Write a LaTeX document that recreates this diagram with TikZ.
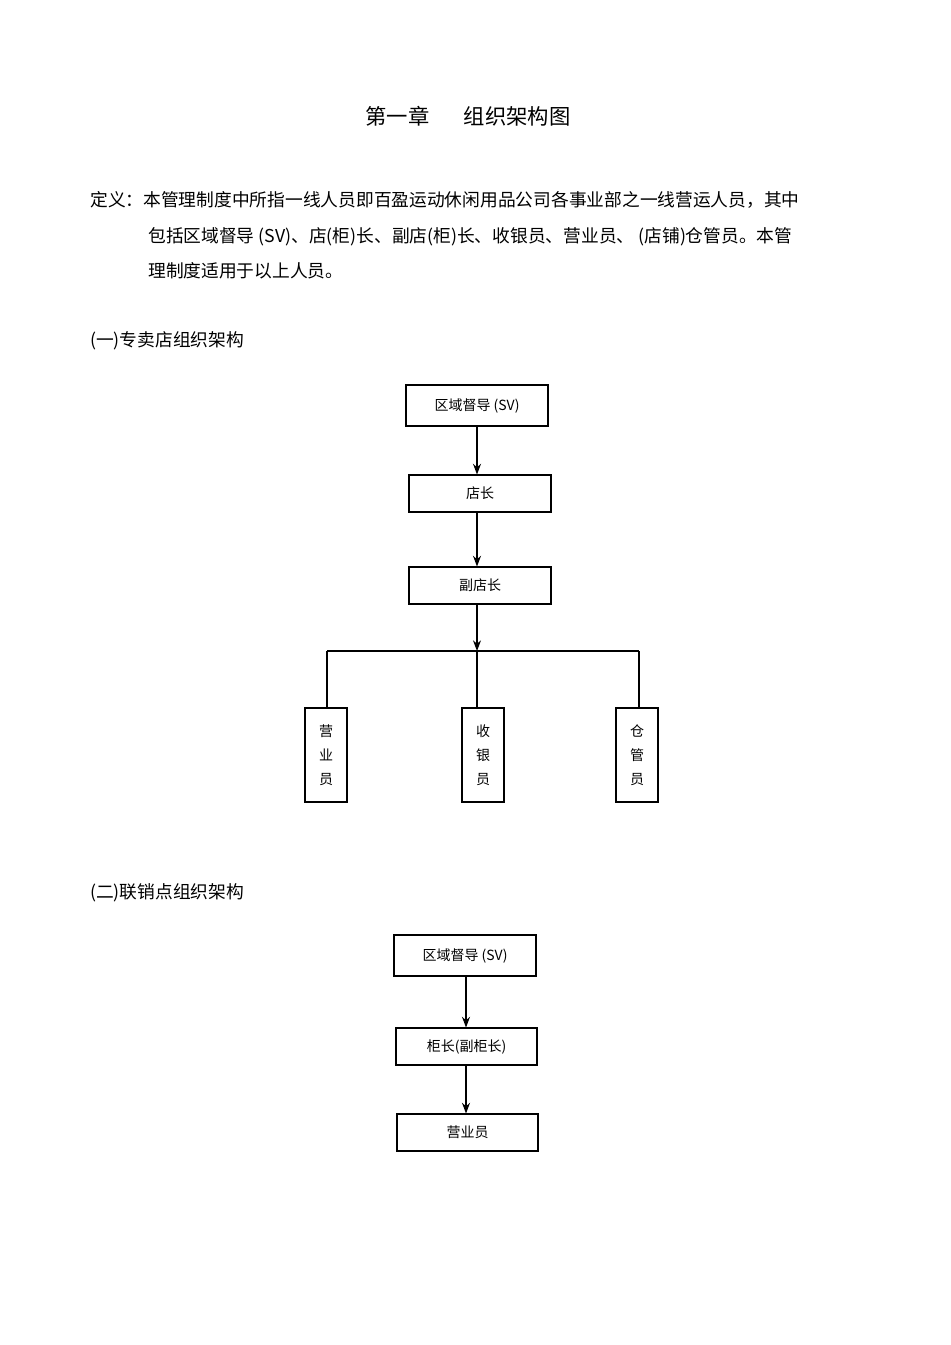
\documentclass[tikz,border=0pt]{standalone}
\usepackage{fontspec}
\setmainfont{Noto Sans CJK SC}
\usetikzlibrary{arrows.meta}
\begin{document}
\begin{tikzpicture}[x=0.75pt,y=-0.75pt,
  box/.style={draw,line width=0.8pt,inner sep=0pt,font=\fontsize{10.5}{12}\selectfont},
  arr/.style={-{Stealth[length=8pt,width=6pt]},line width=0.8pt},
  ln/.style={line width=0.8pt},
  body/.style={anchor=west,inner sep=0pt,font=\fontsize{13.3}{15}\selectfont}]
\useasboundingbox (0,0) rectangle (950,1345);
\node[font=\fontsize{16}{19}\selectfont] (title) at (468,116) {第一章\hspace{1.6em}组织架构图};
\node[body] (d1) at (90,200) {定义：本管理制度中所指一线人员即百盈运动休闲用品公司各事业部之一线营运人员，其中};
\node[body] (d2) at (148,237) {包括区域督导 (SV)、店(柜)长、副店(柜)长、收银员、营业员、 (店铺)仓管员。本管};
\node[body] (d3) at (148,271) {理制度适用于以上人员。};
\node[body] (s1) at (90,341) {(一)专卖店组织架构};
\node[body] (s2) at (90,893) {(二)联销点组织架构};
% chart 1
\node[box,minimum width=142*0.75pt,minimum height=41*0.75pt] (sv) at (477,405.5) {区域督导 (SV)};
\node[box,minimum width=142*0.75pt,minimum height=37*0.75pt] (dz) at (480,493.5) {店长};
\node[box,minimum width=142*0.75pt,minimum height=37*0.75pt] (fdz) at (480,585.5) {副店长};
\coordinate (j) at (477,651);
\coordinate (jl) at (327,651);
\coordinate (jr) at (639,651);
\node[box,minimum width=42*0.75pt,minimum height=94*0.75pt,align=center] (yy) at (326,755) {营\\[6pt]业\\[6pt]员};
\node[box,minimum width=42*0.75pt,minimum height=94*0.75pt,align=center] (sy) at (483,755) {收\\[6pt]银\\[6pt]员};
\node[box,minimum width=42*0.75pt,minimum height=94*0.75pt,align=center] (cg) at (637,755) {仓\\[6pt]管\\[6pt]员};
\draw[arr] (sv.south -| 477,0) -- (dz.north -| 477,0);
\draw[arr] (dz.south -| 477,0) -- (fdz.north -| 477,0);
\draw[arr] (fdz.south -| 477,0) -- (j);
\draw[ln] (jl) -- (jr);
\draw[ln] (jl) -- (yy.north -| jl);
\draw[ln] (j) -- (sy.north -| j);
\draw[ln] (jr) -- (cg.north -| jr);
% chart 2
\node[box,minimum width=142*0.75pt,minimum height=41*0.75pt] (sv2) at (465,955.5) {区域督导 (SV)};
\node[box,minimum width=141*0.75pt,minimum height=37*0.75pt] (gz) at (466.5,1046.5) {柜长(副柜长)};
\node[box,minimum width=141*0.75pt,minimum height=37*0.75pt] (yy2) at (467.5,1132.5) {营业员};
\draw[arr] (sv2.south -| 466,0) -- (gz.north -| 466,0);
\draw[arr] (gz.south -| 466,0) -- (yy2.north -| 466,0);
\end{tikzpicture}
\end{document}
